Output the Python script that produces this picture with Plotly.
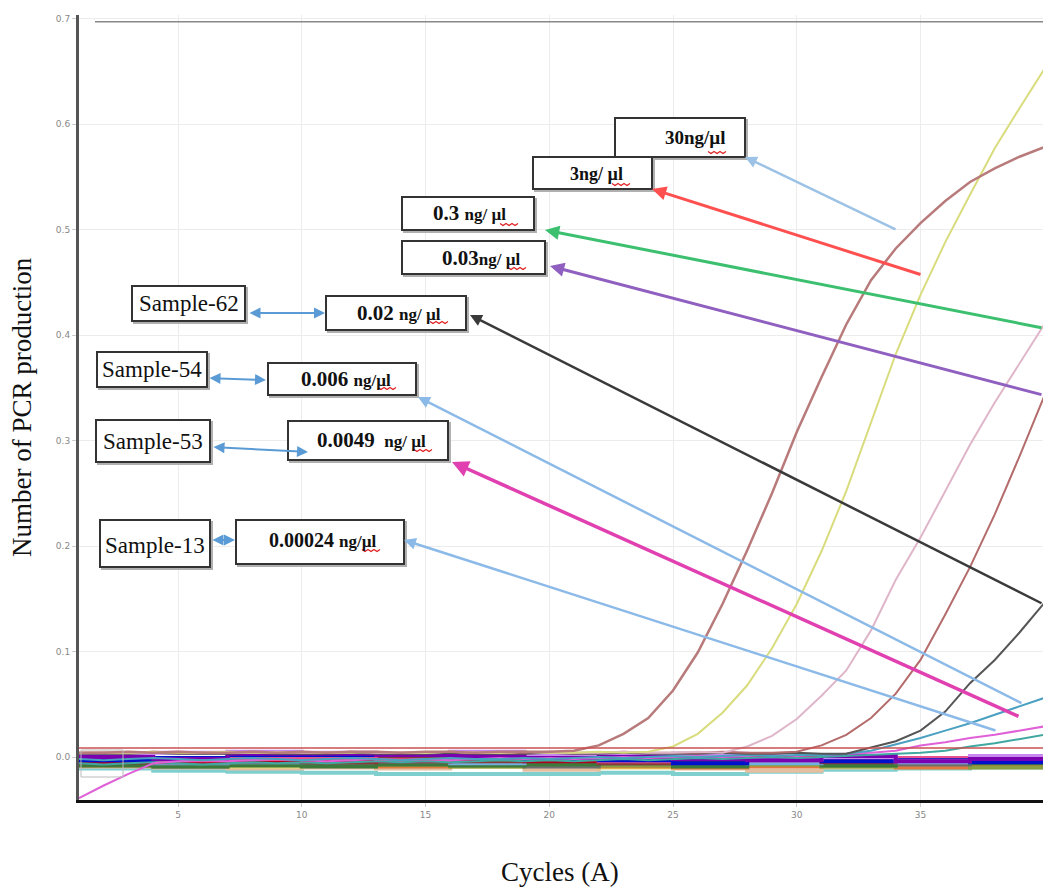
import plotly.graph_objects as go

# ---------------- data ----------------
CYCLES = list(range(1, 41))

curve_30 = [0.004, 0.004, 0.005, 0.004, 0.005, 0.004, 0.004, 0.005, 0.004, 0.005,
            0.004, 0.005, 0.005, 0.004, 0.005, 0.005, 0.004, 0.005, 0.005, 0.005,
            0.006, 0.011, 0.022, 0.037, 0.063, 0.099, 0.145, 0.196, 0.250, 0.308,
            0.360, 0.410, 0.452, 0.482, 0.506, 0.527, 0.545, 0.558, 0.569, 0.578]
curve_3 = [0.004, 0.004, 0.004, 0.005, 0.004, 0.004, 0.005, 0.004, 0.004, 0.005,
           0.004, 0.004, 0.005, 0.004, 0.004, 0.005, 0.004, 0.004, 0.005, 0.004,
           0.004, 0.005, 0.004, 0.005, 0.010, 0.022, 0.042, 0.068, 0.103, 0.145,
           0.195, 0.252, 0.318, 0.382, 0.438, 0.488, 0.533, 0.577, 0.615, 0.652]
curve_03 = [0.004, 0.005, 0.004, 0.004, 0.005, 0.004, 0.004, 0.004, 0.005, 0.004,
            0.004, 0.005, 0.004, 0.004, 0.004, 0.005, 0.004, 0.004, 0.005, 0.004,
            0.004, 0.004, 0.005, 0.004, 0.004, 0.005, 0.004, 0.010, 0.020, 0.036,
            0.058, 0.082, 0.120, 0.168, 0.208, 0.252, 0.296, 0.336, 0.373, 0.410]
curve_003 = [0.004, 0.004, 0.004, 0.005, 0.004, 0.004, 0.004, 0.005, 0.004, 0.004,
             0.004, 0.005, 0.004, 0.004, 0.004, 0.005, 0.004, 0.004, 0.004, 0.005,
             0.004, 0.004, 0.005, 0.004, 0.004, 0.004, 0.005, 0.004, 0.004, 0.005,
             0.011, 0.021, 0.037, 0.060, 0.092, 0.135, 0.180, 0.230, 0.285, 0.342]
curve_002 = [0.003, 0.003, 0.003, 0.004, 0.003, 0.003, 0.003, 0.004, 0.003, 0.003,
             0.003, 0.004, 0.003, 0.003, 0.003, 0.004, 0.003, 0.003, 0.003, 0.004,
             0.003, 0.003, 0.004, 0.003, 0.003, 0.003, 0.004, 0.003, 0.003, 0.004,
             0.003, 0.003, 0.009, 0.015, 0.025, 0.043, 0.070, 0.092, 0.118, 0.146]
curve_s54 = [-0.002, -0.003, -0.002, -0.001, -0.002, -0.003, -0.002, -0.001, -0.002, -0.003,
             -0.002, -0.001, -0.002, -0.003, -0.002, -0.001, -0.002, -0.002, -0.001, -0.002,
             -0.001, 0.000, -0.001, 0.000, 0.001, 0.000, 0.001, 0.002, 0.001, 0.002,
             0.002, 0.003, 0.006, 0.012, 0.018, 0.025, 0.032, 0.040, 0.048, 0.056]
curve_s53 = [-0.039, -0.027, -0.016, -0.006, -0.004, -0.003, -0.004, -0.003, -0.002, -0.003,
             -0.004, -0.003, -0.002, -0.003, -0.002, -0.003, -0.002, -0.001, -0.002, -0.001,
             -0.002, -0.001, 0.000, -0.001, 0.000, 0.001, 0.000, 0.001, 0.002, 0.001,
             0.002, 0.003, 0.004, 0.006, 0.011, 0.014, 0.018, 0.021, 0.025, 0.029]
curve_s13 = [-0.006, -0.007, -0.006, -0.005, -0.006, -0.007, -0.006, -0.005, -0.006, -0.005,
             -0.006, -0.005, -0.004, -0.005, -0.004, -0.005, -0.004, -0.003, -0.004, -0.003,
             -0.004, -0.003, -0.002, -0.003, -0.002, -0.001, -0.002, -0.001, 0.000, -0.001,
             0.000, 0.001, 0.002, 0.003, 0.004, 0.006, 0.010, 0.013, 0.017, 0.021]

BASE_X = [1, 4, 7, 10, 13, 16, 19, 22, 25, 28, 31, 34, 37, 40]
base_purple = [0, -2, 3, 3, 2, 1, -1, 0, -2, -3, 1, -4, -2, -3]
base_blue = [-3, -1, 2, 2, 2, 0, -2, -3, -6, -2, -4, -3, -5, -4]
base_darkred = [-5, -4, -4, -3, -4, -2, -4, -3, -1, 0, -3, -2, -4, -1]
base_brown = [-4, -5, -4, -5, -2, -4, -1, -6, -3, -2, -5, -1, -3, -2]
base_violet = [2, 4, 5, 4, 3, 5, 2, 1, 3, -2, 0, -4, 1, -1]
base_green = [-8, -9, -8, -9, -7, -8, -7, -6, -9, -5, -8, -4, -6, -5]
base_teal = [-11, -13, -14, -15, -16, -16, -16, -15, -16, -14, -12, -11, -10, -8]
base_peach = [-9, -10, -11, -10, -11, -9, -12, -8, -11, -13, -10, -9, -7, -6]
base_gray = [-7, -9, -6, -8, -5, -7, -9, -6, -8, -5, -6, -7, -5, -6]
base_yellow = [-6, -7, -9, -7, -8, -9, -8, -10, -7, -8, -9, -6, -8, -7]
base_orange = [-8, -6, -7, -8, -9, -8, -6, -9, -10, -9, -7, -10, -8, -9]
base_pink = [-1, -3, -2, -1, -3, 0, -2, -4, -1, -3, -2, -1, -3, -2]
base_lightblue = [-2, -6, -5, -3, -4, -6, -3, -5, -4, -6, -3, -5, -2, -4]
base_olive = [-5, -7, -6, -5, -7, -9, -6, -8, -6, -7, -9, -6, -10, -8]

THRESHOLD = 0.0085
TOP_LINE = 0.697

X_TICKS = [5, 10, 15, 20, 25, 30, 35, 40]
Y_TICKS = [0.0, 0.1, 0.2, 0.3, 0.4, 0.5, 0.6, 0.7]

# ---------------- layout geometry ----------------
W, H = 1043, 887
ML, MT, MB = 79, 15, 87
PX_PER_CYCLE = 24.75
Y0_PX, PX_PER_UNIT = 757, 1055.0


def dx(px):
    return 1 + (px - ML) / PX_PER_CYCLE


def dy(py):
    return (Y0_PX - py) / PX_PER_UNIT


X_RANGE = [1, dx(W)]
Y_RANGE = [dy(H - MB), dy(MT)]

fig = go.Figure()

baselines = [
    (base_teal, "#7fcfcf"), (base_peach, "#e5bfa0"), (base_yellow, "#e3de6a"),
    (base_orange, "#e07a3c"), (base_olive, "#8aa040"), (base_gray, "#6e6e6e"),
    (base_green, "#3c7a3c"), (base_lightblue, "#6fb0e0"), (base_brown, "#8b3a3a"),
    (base_darkred, "#b00020"), (base_pink, "#e85090"), (base_blue, "#0010cc"),
    (base_violet, "#c888f0"), (base_purple, "#7a00b0"),
]
for vals, col in baselines:
    fig.add_trace(go.Scatter(x=BASE_X, y=[v / 1000 for v in vals], mode="lines",
                             line=dict(color=col, width=4, shape="hv"),
                             hoverinfo="skip", showlegend=False))

curves = [
    (curve_s13, "#3fa8a0", 2), (curve_s53, "#e060d8", 2), (curve_s54, "#4aa0c0", 2),
    (curve_002, "#555555", 2), (curve_003, "#b36b6b", 2), (curve_03, "#dfb6c9", 2),
    (curve_3, "#d9dc7c", 2), (curve_30, "#b87a7a", 2.5),
]
for vals, col, w in curves:
    fig.add_trace(go.Scatter(x=CYCLES, y=vals, mode="lines",
                             line=dict(color=col, width=w),
                             hoverinfo="skip", showlegend=False))

shapes = []
shapes.append(dict(type="line", xref="x", yref="y", x0=X_RANGE[0], x1=X_RANGE[1],
                   y0=THRESHOLD, y1=THRESHOLD, line=dict(color="#c85050", width=1.5)))
shapes.append(dict(type="line", xref="x", yref="y", x0=dx(95), x1=X_RANGE[1],
                   y0=TOP_LINE, y1=TOP_LINE, line=dict(color="#888888", width=1.5)))
shapes.append(dict(type="rect", xref="x", yref="y", x0=dx(81), x1=dx(123),
                   y0=dy(777), y1=dy(750), line=dict(color="#bbbbbb", width=1)))

boxes = [
    (615, 118, 745, 157), (533, 157, 652, 189), (402, 197, 534, 230),
    (402, 241, 545, 274), (132, 286, 245, 321), (326, 296, 466, 330),
    (97, 352, 207, 387), (268, 363, 416, 395), (96, 420, 210, 462),
    (288, 421, 448, 460), (100, 520, 210, 567), (236, 520, 404, 564),
]
for l, t, r, b in boxes:
    shapes.append(dict(type="rect", xref="x", yref="y", x0=dx(l + 2), x1=dx(r + 2),
                       y0=dy(b + 2), y1=dy(t + 2), layer="above",
                       line=dict(color="#b0b0b0", width=2), fillcolor="#b0b0b0"))
    shapes.append(dict(type="rect", xref="x", yref="y", x0=dx(l), x1=dx(r),
                       y0=dy(b), y1=dy(t), layer="above",
                       line=dict(color="#333333", width=2), fillcolor="white"))

# red spell-check squiggles under "µl"
squiggles = [(708, 152), (612, 184), (500, 224), (508, 268),
             (430, 322), (378, 388), (414, 450), (362, 550)]
for sx, sy in squiggles:
    pts = []
    for k in range(7):
        px = sx + k * 3
        py = sy + (1.5 if k % 2 else -0.5)
        pts.append("%s%.4f,%.5f" % ("M" if k == 0 else "L", dx(px), dy(py)))
    shapes.append(dict(type="path", xref="x", yref="y", path=" ".join(pts),
                       layer="above", line=dict(color="#e02020", width=1.3)))

annotations = []
SERIF = "Liberation Serif, Times New Roman, serif"


def num_label(num, unit, cx, cy, nsize=21, usize=17):
    txt = "<b>%s</b><span style='font-size:%dpx'><b>%s</b></span>" % (num, usize, unit)
    annotations.append(dict(text=txt, x=dx(cx), y=dy(cy), xref="x", yref="y",
                            showarrow=False, xanchor="center", yanchor="middle",
                            font=dict(family=SERIF, size=nsize, color="#111111")))


num_label("30ng/µl", "", 695, 137, nsize=19)
num_label("3ng/ µl", "", 596, 174, nsize=18)
num_label("0.3 ", "ng/ µl", 469, 213)
num_label("0.03", "ng/ µl", 481, 258)
num_label("0.02 ", "ng/ µl", 399, 313)
num_label("0.006 ", "ng/µl", 346, 379)
num_label("0.0049 ", " ng/ µl", 371, 440)
num_label("0.00024 ", "ng/µl", 322, 540, nsize=20, usize=17)

for txt, cx, cy in [("Sample-62", 189, 303), ("Sample-54", 152, 369),
                    ("Sample-53", 153, 441), ("Sample-13", 155, 545)]:
    annotations.append(dict(text=txt, x=dx(cx), y=dy(cy), xref="x", yref="y",
                            showarrow=False, xanchor="center", yanchor="middle",
                            font=dict(family=SERIF, size=23, color="#111111")))

arrows = [
    ((745, 157), (897, 230), "#9cc2e6", 2.5),
    ((652, 189), (922, 275), "#ff5050", 3),
    ((545, 230), (1043, 328), "#3cc070", 3),
    ((550, 266), (1043, 395), "#9060c0", 3),
    ((470, 315), (1043, 604), "#3a3a3a", 2.5),
    ((418, 397), (1023, 704), "#8cbae8", 2.5),
    ((452, 462), (1020, 717), "#e040b0", 3.5),
    ((404, 540), (997, 731), "#8cbae8", 2.5),
]
for (hx, hy), (tx, ty), col, w in arrows:
    annotations.append(dict(text="", x=dx(hx), y=dy(hy), ax=dx(tx), ay=dy(ty),
                            xref="x", yref="y", axref="x", ayref="y",
                            showarrow=True, arrowhead=2, arrowsize=0.95,
                            arrowwidth=w, arrowcolor=col, standoff=0))

double_arrows = [
    ((248, 313), (325, 313)), ((208, 378), (266, 380)),
    ((212, 447), (308, 452)), ((211, 540), (235, 540)),
]
for (x1p, y1p), (x2p, y2p) in double_arrows:
    annotations.append(dict(text="", x=dx(x2p), y=dy(y2p), ax=dx(x1p), ay=dy(y1p),
                            xref="x", yref="y", axref="x", ayref="y",
                            showarrow=True, arrowhead=2, startarrowhead=2,
                            arrowside="end+start", arrowsize=1.1, startarrowsize=1.1,
                            arrowwidth=2, arrowcolor="#5b9bd5",
                            standoff=0, startstandoff=0))


def paper_x(px):
    return (px - ML) / (W - ML)


def paper_y(py):
    return (H - MB - py) / (H - MT - MB)


annotations.append(dict(text="Number of PCR production", x=paper_x(22), y=paper_y(407),
                        xref="paper", yref="paper", showarrow=False, textangle=-90,
                        xanchor="center", yanchor="middle",
                        font=dict(family=SERIF, size=27, color="#111111")))
annotations.append(dict(text="Cycles (A)", x=paper_x(560), y=paper_y(872),
                        xref="paper", yref="paper", showarrow=False,
                        xanchor="center", yanchor="middle",
                        font=dict(family=SERIF, size=27, color="#111111")))

fig.update_layout(
    width=W, height=H,
    margin=dict(l=ML, r=0, t=MT, b=MB),
    paper_bgcolor="white", plot_bgcolor="white",
    shapes=shapes, annotations=annotations, showlegend=False,
    xaxis=dict(range=X_RANGE, tickvals=X_TICKS, ticktext=[str(v) for v in X_TICKS],
               showgrid=True, gridcolor="#ececec", gridwidth=1, zeroline=False,
               showline=True, linecolor="#111111", linewidth=3,
               ticks="outside", ticklen=4, tickcolor="#cccccc",
               tickfont=dict(family="DejaVu Sans", size=9, color="#888888")),
    yaxis=dict(range=Y_RANGE, tickvals=Y_TICKS, ticktext=["%.1f" % v for v in Y_TICKS],
               showgrid=True, gridcolor="#ececec", gridwidth=1, zeroline=False,
               showline=True, linecolor="#555555", linewidth=3,
               ticks="outside", ticklen=4, tickcolor="#cccccc",
               tickfont=dict(family="DejaVu Sans", size=9, color="#888888")),
)

fig.write_html("out.html", config={"displayModeBar": False},
               post_script="document.body.style.margin='0';"
                           "document.body.style.overflow='hidden';")
